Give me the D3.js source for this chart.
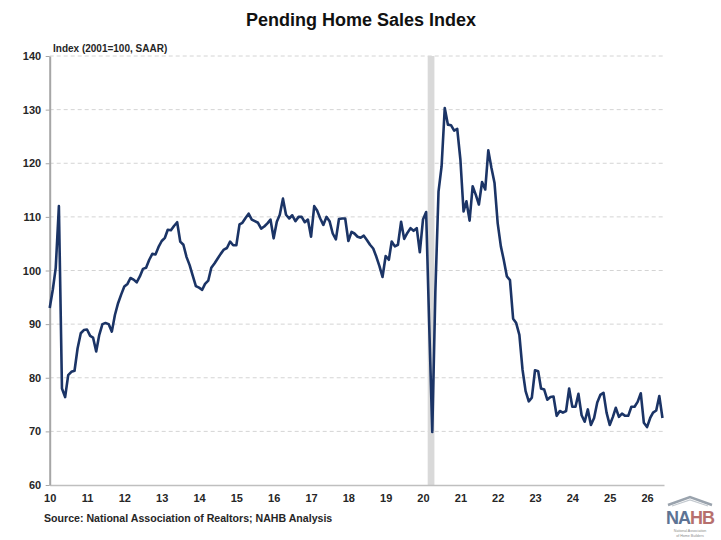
<!DOCTYPE html>
<meta charset="utf-8">
<script src="https://d3js.org/d3.v7.min.js"></script>
<style>
  body { margin: 0; background: #fff; }
  svg { font-family: 'Liberation Sans', Arial, sans-serif; }
  .ylab text { font-size: 11px; font-weight: bold; fill: #262626; }
  .xlab text { font-size: 11px; font-weight: bold; fill: #262626; }
</style>
<body>
<div id="chart"></div>
<script>

// monthly index values, Jan 2010 onward
var y2010 = [93.0, 96.5, 100.5, 112.0, 78.0, 76.4, 80.5, 81.1, 81.3, 85.5, 88.3, 88.9];
var y2011 = [89.0, 87.8, 87.5, 84.9, 88.0, 90.0, 90.2, 90.0, 88.6, 91.7, 93.9, 95.5];
var y2012 = [97.0, 97.5, 98.6, 98.3, 97.8, 98.9, 100.3, 100.5, 102.0, 103.1, 103.0, 104.4];
var y2013 = [105.5, 106.1, 107.6, 107.5, 108.3, 109.0, 105.4, 104.8, 102.5, 101.0, 99.0, 97.1];
var y2014 = [96.8, 96.4, 97.5, 98.1, 100.5, 101.3, 102.2, 103.1, 103.9, 104.2, 105.4, 104.7];
var y2015 = [104.7, 108.6, 108.9, 109.8, 110.6, 109.5, 109.2, 108.9, 107.8, 108.2, 108.8, 109.5];
var y2016 = [106.0, 109.1, 110.4, 113.4, 110.4, 109.7, 110.3, 109.2, 110.0, 110.0, 109.0, 109.5];
var y2017 = [106.3, 112.0, 111.2, 109.7, 108.5, 110.0, 109.2, 106.9, 105.8, 109.6, 109.7, 109.7];
var y2018 = [105.5, 107.2, 106.9, 106.3, 106.1, 106.5, 105.7, 104.8, 104.1, 102.6, 100.8, 98.8];
var y2019 = [102.7, 102.0, 105.4, 104.5, 104.8, 109.1, 105.9, 107.0, 107.9, 107.4, 107.9, 103.4];
var y2020 = [109.5, 110.9, 90.4, 69.9, 96.0, 114.7, 119.4, 130.3, 127.2, 127.1, 126.1, 126.4];
var y2021 = [120.7, 111.0, 112.9, 109.3, 115.7, 114.1, 112.3, 116.5, 115.1, 122.4, 119.1, 116.3];
var y2022 = [108.8, 104.5, 102.0, 98.9, 98.2, 91.0, 90.2, 88.0, 81.5, 77.5, 75.6, 76.3];
var y2023 = [81.4, 81.2, 78.0, 77.8, 75.9, 76.4, 76.5, 72.9, 73.8, 73.5, 73.8, 78.0];
var y2024 = [74.6, 74.6, 77.0, 73.0, 71.8, 74.1, 71.2, 72.5, 75.4, 76.8, 77.2, 73.5];
var y2025 = [71.2, 72.7, 74.4, 72.7, 73.3, 72.9, 72.9, 74.6, 74.6, 75.5, 77.1, 71.6];
var y2026 = [70.8, 72.5, 73.5, 73.9, 76.6, 72.5];

var xTickLabels = ["10", "11", "12", "13", "14", "15", "16", "17", "18",
                   "19", "20", "21", "22", "23", "24", "25", "26"];
var yTicks = [60, 70, 80, 90, 100, 110, 120, 130, 140];
// shaded recession months (year, month index)
var recession = [[2020, 1.5], [2020, 3.7]];

var values = [].concat(y2010, y2011, y2012, y2013, y2014, y2015, y2016, y2017,
                       y2018, y2019, y2020, y2021, y2022, y2023, y2024, y2025, y2026);
var data = values.map(function(v, i) { return {date: new Date(2010, i, 1), value: v}; });

var W = 721, H = 540;
var margin = {top: 56, right: 57, bottom: 55, left: 49.7},
    width = W - margin.left - margin.right,
    height = H - margin.top - margin.bottom;

var svg = d3.select("#chart")
  .append("svg")
    .attr("width", W)
    .attr("height", H);

var g = svg.append("g")
    .attr("transform", "translate(" + margin.left + "," + margin.top + ")");

var x = d3.scaleTime()
  .domain([new Date(2010, 0, 1), new Date(2026, 5, 16)])
  .range([0, width]);

var y = d3.scaleLinear()
  .domain([60, 140])
  .range([height, 0]);

// gridlines
g.append("g")
  .selectAll("line")
  .data(yTicks.filter(function(d) { return d > 60; }))
  .enter().append("line")
    .attr("x1", 0)
    .attr("x2", width)
    .attr("y1", function(d) { return y(d); })
    .attr("y2", function(d) { return y(d); })
    .attr("stroke", "#d4d4d4")
    .attr("stroke-width", 1)
    .attr("stroke-dasharray", "4,3");

// recession band
function monthPos(p) {
  var d = d3.timeMonth.offset(new Date(p[0], 0, 1), Math.floor(p[1]));
  return d3.timeDay.offset(d, Math.round((p[1] % 1) * 30));
}
var r0 = monthPos(recession[0]), r1 = monthPos(recession[1]);
g.append("rect")
  .attr("x", x(r0))
  .attr("y", 0)
  .attr("width", x(r1) - x(r0))
  .attr("height", height)
  .attr("fill", "#d9d9d9");

// X axis
var xAxis = g.append("g")
  .attr("class", "xlab")
  .attr("transform", "translate(0," + height + ")")
  .call(d3.axisBottom(x)
    .tickValues(xTickLabels.map(function(t) { return new Date(2000 + +t, 0, 1); }))
    .tickFormat(function(d, i) { return xTickLabels[i]; })
    .tickSize(0)
    .tickSizeOuter(0)
    .tickPadding(9));
xAxis.select(".domain").attr("stroke", "#bfbfbf").attr("stroke-width", 1.5);

// Y axis
var yAxis = g.append("g")
  .attr("class", "ylab")
  .call(d3.axisLeft(y)
    .tickValues(yTicks)
    .tickSize(4)
    .tickSizeOuter(0)
    .tickPadding(4.5));
yAxis.select(".domain").attr("stroke", "#a6a6a6").attr("stroke-width", 2);
yAxis.selectAll(".tick line").attr("stroke", "#a6a6a6");

// line
g.append("path")
  .datum(data)
  .attr("fill", "none")
  .attr("stroke", "#1b3466")
  .attr("stroke-width", 2.6)
  .attr("stroke-linejoin", "round")
  .attr("d", d3.line()
    .x(function(d) { return x(d.date); })
    .y(function(d) { return y(d.value); }));

// titles
svg.append("text")
  .attr("x", 361).attr("y", 26)
  .attr("text-anchor", "middle")
  .style("font-size", "18px").style("font-weight", "bold").style("fill", "#111")
  .text("Pending Home Sales Index");

svg.append("text")
  .attr("x", 53).attr("y", 52)
  .style("font-size", "10px").style("font-weight", "bold").style("fill", "#262626")
  .text("Index (2001=100, SAAR)");

svg.append("text")
  .attr("x", 44).attr("y", 522)
  .style("font-size", "10.6px").style("font-weight", "bold").style("fill", "#262626")
  .text("Source: National Association of Realtors; NAHB Analysis");

// NAHB logo
var logo = svg.append("g").attr("transform", "translate(666,495)");
logo.append("path")
  .attr("d", "M2,10 L24,2 L46,10")
  .attr("fill", "none")
  .attr("stroke", "#9aa3ad")
  .attr("stroke-width", 2.5);
logo.append("path")
  .attr("d", "M6,11 L24,5 L42,11")
  .attr("fill", "none")
  .attr("stroke", "#c3c9cf")
  .attr("stroke-width", 1.2);
var nahb = logo.append("text")
  .attr("x", 24).attr("y", 29)
  .attr("text-anchor", "middle")
  .style("font-size", "18px").style("font-weight", "bold")
  .style("letter-spacing", "-1px");
nahb.append("tspan").style("fill", "#5d7394").text("NA");
nahb.append("tspan").style("fill", "#b7706e").text("HB");
logo.append("text")
  .attr("x", 24).attr("y", 37)
  .attr("text-anchor", "middle")
  .style("font-size", "3.6px").style("fill", "#8a8a8a")
  .text("National Association");
logo.append("text")
  .attr("x", 24).attr("y", 41.5)
  .attr("text-anchor", "middle")
  .style("font-size", "3.6px").style("fill", "#8a8a8a")
  .text("of Home Builders");

</script>
</body>
